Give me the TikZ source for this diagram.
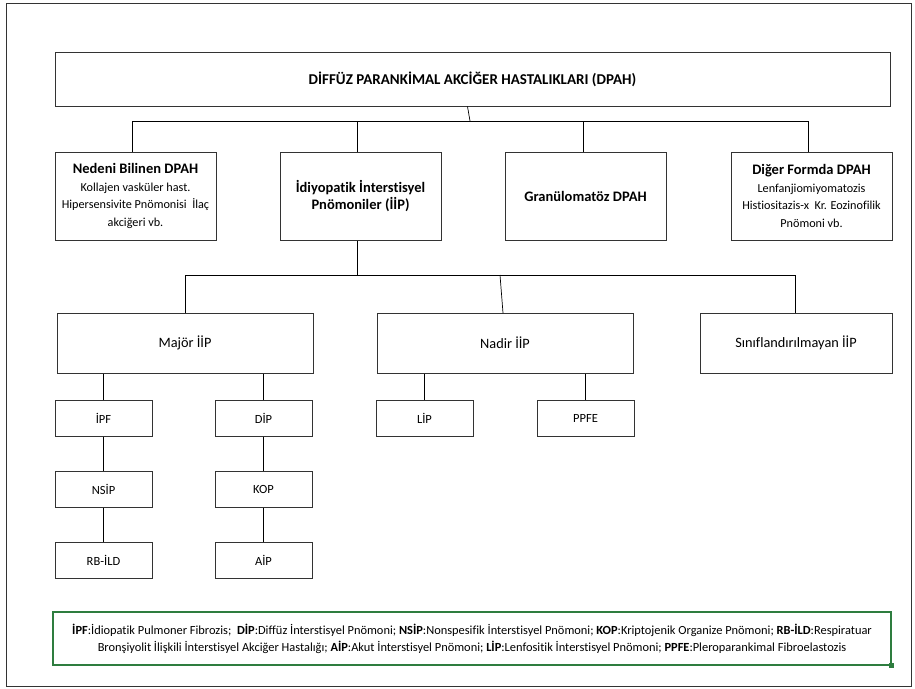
\documentclass[tikz,border=0pt]{standalone}
\usepackage{fontspec}
\setmainfont{Carlito}[Ligatures={NoCommon}]
\usetikzlibrary{positioning}
\definecolor{ALine}{HTML}{333333}
\definecolor{AGreen}{HTML}{2E7D3F}
\newcommand{\hd}[1]{{\fontsize{14.5}{17.5}\selectfont\bfseries #1}}
\tikzset{
    block/.style = {draw=ALine, rectangle, line width=1pt, align=center, inner sep=2pt},
    topblock/.style = {block, minimum width=835pt, minimum height=54pt, font=\fontsize{15}{18}\selectfont\bfseries},
    groupblock/.style = {block, minimum width=161pt, minimum height=88pt, font=\fontsize{12.2}{17.5}\selectfont},
    typeblock/.style = {block, minimum height=60pt, font=\fontsize{14.3}{17}\selectfont},
    subblock/.style = {block, minimum width=97pt, minimum height=36pt, font=\fontsize{12.5}{14}\selectfont},
    link/.style = {draw, black, line width=0.7pt},
    legend/.style = {draw=AGreen, line width=1.6pt, minimum width=838pt, minimum height=53pt, align=center, font=\fontsize{12.4}{17}\selectfont}
}
\begin{document}
\begin{tikzpicture}[x=1pt, y=-1pt]
            \useasboundingbox (0,0) rectangle (915,688);
            \draw [ALine, line width=0.8pt] (6,3) rectangle (911,686);
            % top
            \node [topblock] (dpah) at (472.5,79) {DİFFÜZ PARANKİMAL AKCİĞER HASTALIKLARI (DPAH)};
            % second row
            \node [groupblock] (bilinen) at (135.5,196) {\hd{Nedeni Bilinen DPAH}\\Kollajen vasküler hast.\\Hipersensivite Pnömonisi~~İlaç\\akciğeri vb.};
            \node [groupblock] (iip) at (360.5,196) {\hd{İdiyopatik İnterstisyel}\\\hd{Pnömoniler (İİP)}};
            \node [groupblock] (granul) at (585.5,196) {\hd{Granülomatöz DPAH}};
            \node [groupblock] (diger) at (811.5,196) {\hd{Diğer Formda DPAH}\\Lenfanjiomiyomatozis\\Histiositazis-x~~Kr. Eozinofilik\\Pnömoni vb.};
            \coordinate (bar1l) at (132,121);
            \coordinate (bar1r) at (808,121);
            \coordinate (bar1m) at (470,121);
            \draw [link] (bar1l) -- (bar1r);
            \draw [link] ([xshift=-5pt]dpah.south) -- (bar1m);
            \draw [link] (bar1l) -- (bar1l |- bilinen.north);
            \draw [link] (357,121) -- (357,152);
            \draw [link] (583,121) -- (583,152);
            \draw [link] (bar1r) -- (bar1r |- diger.north);
            % third row
            \node [typeblock, minimum width=256pt] (major) at (185,343) {Majör İİP};
            \node [typeblock, minimum width=256pt] (nadir) at (505,343) {Nadir İİP};
            \node [typeblock, minimum width=192pt] (sinif) at (796,343) {Sınıflandırılmayan İİP};
            \coordinate (bar2l) at (185,275);
            \coordinate (bar2r) at (795,275);
            \draw [link] (bar2l) -- (bar2r);
            \draw [link] (iip.south -| 357,0) -- (357,275);
            \draw [link] (bar2l) -- (major.north);
            \draw [link] (500,275) -- (503,313);
            \draw [link] (bar2r) -- (bar2r |- sinif.north);
            % fourth row
            \node [subblock] (ipf) at (103.5,418) {İPF};
            \node [subblock] (nsip) at (103.5,489) {NSİP};
            \node [subblock] (rbild) at (103.5,560) {RB-İLD};
            \node [subblock] (dip) at (263.5,418) {DİP};
            \node [subblock] (kop) at (263.5,489) {KOP};
            \node [subblock] (aip) at (263.5,560) {AİP};
            \node [subblock] (lip) at (424.5,418) {LİP};
            \node [subblock] (ppfe) at (585.5,418) {PPFE};
            \draw [link] (major.south -| ipf.north) -- (ipf.north);
            \draw [link] (major.south -| dip.north) -- (dip.north);
            \draw [link] (nadir.south -| lip.north) -- (lip.north);
            \draw [link] (nadir.south -| ppfe.north) -- (ppfe.north);
            \draw [link] (ipf) -- (nsip);
            \draw [link] (nsip) -- (rbild);
            \draw [link] (dip) -- (kop);
            \draw [link] (kop) -- (aip);
            % legend
            \node [legend] (abbr) at (472,638.5) {\textbf{İPF}:İdiopatik Pulmoner Fibrozis;~~\textbf{DİP}:Diffüz İnterstisyel Pnömoni; \textbf{NSİP}:Nonspesifik İnterstisyel Pnömoni; \textbf{KOP}:Kriptojenik Organize Pnömoni; \textbf{RB-İLD}:Respiratuar\\Bronşiyolit İlişkili İnterstisyel Akciğer Hastalığı; \textbf{AİP}:Akut İnterstisyel Pnömoni; \textbf{LİP}:Lenfositik İnterstisyel Pnömoni; \textbf{PPFE}:Pleroparankimal Fibroelastozis};
            \fill [AGreen] ([xshift=-2.5pt,yshift=-2.5pt]abbr.south east) rectangle ([xshift=2.5pt,yshift=2.5pt]abbr.south east);
\end{tikzpicture}
\end{document}
